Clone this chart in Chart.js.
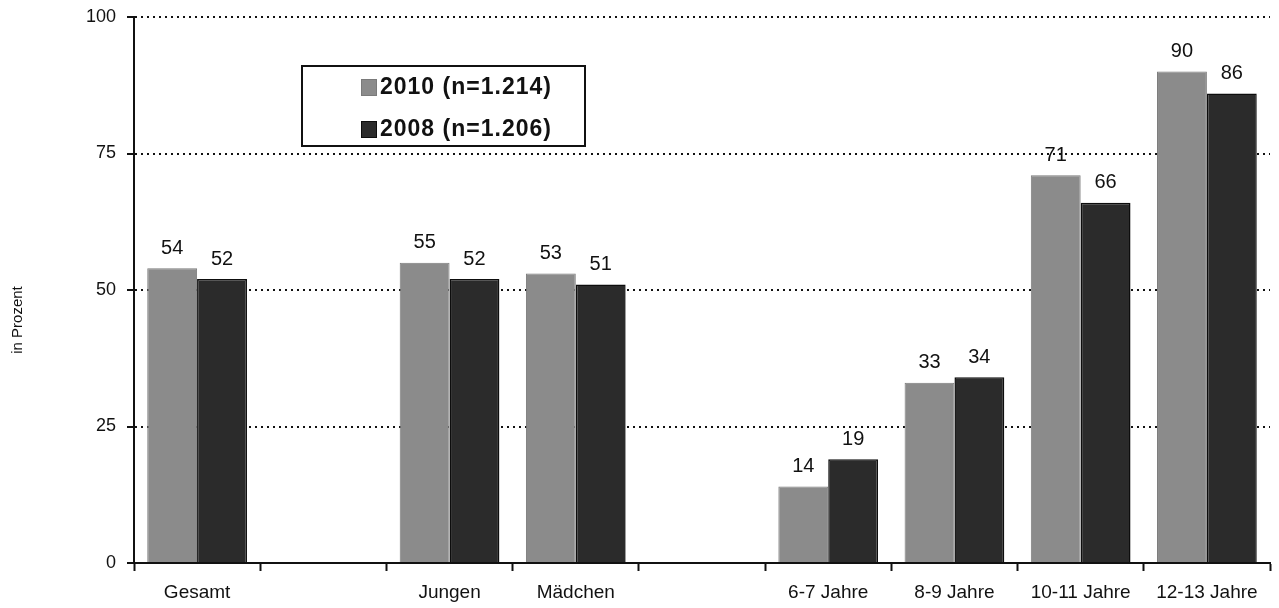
<!DOCTYPE html>
<html lang="de">
<head>
<meta charset="utf-8">
<title>Anteil in Prozent, 2010 und 2008</title>
<script src="https://cdn.jsdelivr.net/npm/chart.js@4.4.1/dist/chart.umd.min.js"></script>
<style>
  html, body { margin: 0; padding: 0; background: #ffffff; }
  #wrap { width: 1279px; height: 608px; }
</style>
</head>
<body>
<div id="wrap"><canvas id="chart" width="1279" height="608"></canvas></div>
<script>
// Categories (empty strings leave the gaps between the groups)
const categories = ['Gesamt', '', 'Jungen', 'Mädchen', '', '6-7 Jahre', '8-9 Jahre', '10-11 Jahre', '12-13 Jahre'];

// Percentages per year
const values2010 = [54, null, 55, 53, null, 14, 33, 71, 90];
const values2008 = [52, null, 52, 51, null, 19, 34, 66, 86];

// Series names
const seriesLabels = ['2010 (n=1.214)', '2008 (n=1.206)'];

// Y axis
const yTicks = [0, 25, 50, 75, 100];
const yTitle = 'in Prozent';

const FONT = '"Liberation Sans", Arial, Helvetica, sans-serif';

// Value labels above each bar
const valueLabels = {
  id: 'valueLabels',
  afterDatasetsDraw(chart) {
    const ctx = chart.ctx;
    ctx.save();
    ctx.font = '20px ' + FONT;
    ctx.fillStyle = '#111';
    ctx.textAlign = 'center';
    ctx.textBaseline = 'bottom';
    chart.data.datasets.forEach((ds, i) => {
      const meta = chart.getDatasetMeta(i);
      meta.data.forEach((bar, j) => {
        const v = ds.data[j];
        if (v === null || v === undefined) return;
        ctx.fillText(String(v), bar.x, bar.y - 10);
      });
    });
    ctx.restore();
  }
};

// Boxed legend inside the plot area
const boxLegend = {
  id: 'boxLegend',
  afterDraw(chart) {
    const ctx = chart.ctx;
    const x0 = 302, y0 = 66, w = 283, h = 80;
    ctx.save();
    ctx.fillStyle = '#fff';
    ctx.fillRect(x0, y0, w, h);
    ctx.lineWidth = 2;
    ctx.strokeStyle = '#111';
    ctx.strokeRect(x0, y0, w, h);
    ctx.font = 'bold 23px ' + FONT;
    ctx.letterSpacing = '1px';
    ctx.textAlign = 'left';
    ctx.textBaseline = 'middle';
    const rows = [87, 129];
    chart.data.datasets.forEach((ds, i) => {
      const cy = rows[i];
      ctx.fillStyle = ds.backgroundColor;
      ctx.fillRect(361, cy - 8, 16, 17);
      ctx.lineWidth = 1;
      ctx.strokeStyle = ds.borderColor;
      ctx.strokeRect(361.5, cy - 7.5, 15, 16);
      ctx.fillStyle = '#111';
      ctx.fillText(ds.label, 380, cy + 1);
    });
    ctx.restore();
  }
};

// Rotated y axis title
const axisTitle = {
  id: 'axisTitle',
  afterDraw(chart) {
    const ctx = chart.ctx;
    ctx.save();
    ctx.translate(18, 320);
    ctx.rotate(-Math.PI / 2);
    ctx.font = '15px ' + FONT;
    ctx.fillStyle = '#111';
    ctx.textAlign = 'center';
    ctx.textBaseline = 'middle';
    ctx.fillText(yTitle, 0, 0);
    ctx.restore();
  }
};

new Chart(document.getElementById('chart'), {
  type: 'bar',
  data: {
    labels: categories,
    datasets: [
      {
        label: seriesLabels[0],
        data: values2010,
        backgroundColor: '#8b8b8b',
        borderColor: '#7a7a7a',
        borderWidth: 1,
        categoryPercentage: 0.79,
        barPercentage: 1.0
      },
      {
        label: seriesLabels[1],
        data: values2008,
        backgroundColor: '#2b2b2b',
        borderColor: '#0d0d0d',
        borderWidth: 1.5,
        categoryPercentage: 0.79,
        barPercentage: 1.0
      }
    ]
  },
  options: {
    responsive: false,
    animation: false,
    devicePixelRatio: 1,
    layout: { padding: { top: 17, right: 9, bottom: 0, left: 0 } },
    plugins: {
      legend: { display: false },
      tooltip: { enabled: false },
      title: { display: false }
    },
    scales: {
      x: {
        offset: true,
        afterFit(scale) { scale.height = 45; },
        grid: {
          display: true,
          offset: true,
          drawOnChartArea: false,
          drawTicks: true,
          tickLength: 8,
          tickColor: '#111',
          tickWidth: 2
        },
        border: { display: true, color: '#111', width: 2 },
        ticks: {
          color: '#111',
          font: { family: FONT, size: 19 },
          padding: 10,
          maxRotation: 0,
          autoSkip: false
        }
      },
      y: {
        min: 0,
        max: 100,
        afterFit(scale) {
          scale.width = 134;
          scale.paddingTop = 0;
          scale.paddingBottom = 0;
        },
        afterBuildTicks(scale) { scale.ticks = yTicks.map(v => ({ value: v })); },
        grid: {
          display: true,
          color: ctx => (ctx.tick && ctx.tick.value === 0) ? 'rgba(0,0,0,0)' : '#111',
          lineWidth: 2,
          drawTicks: true,
          tickLength: 7,
          tickColor: '#111',
          tickWidth: 2,
          tickBorderDash: []
        },
        border: { display: true, color: '#111', width: 2, dash: [2, 4] },
        ticks: {
          color: '#111',
          font: { family: FONT, size: 18 },
          padding: 11
        },
        title: { display: false }
      }
    }
  },
  plugins: [valueLabels, boxLegend, axisTitle]
});
</script>
</body>
</html>
